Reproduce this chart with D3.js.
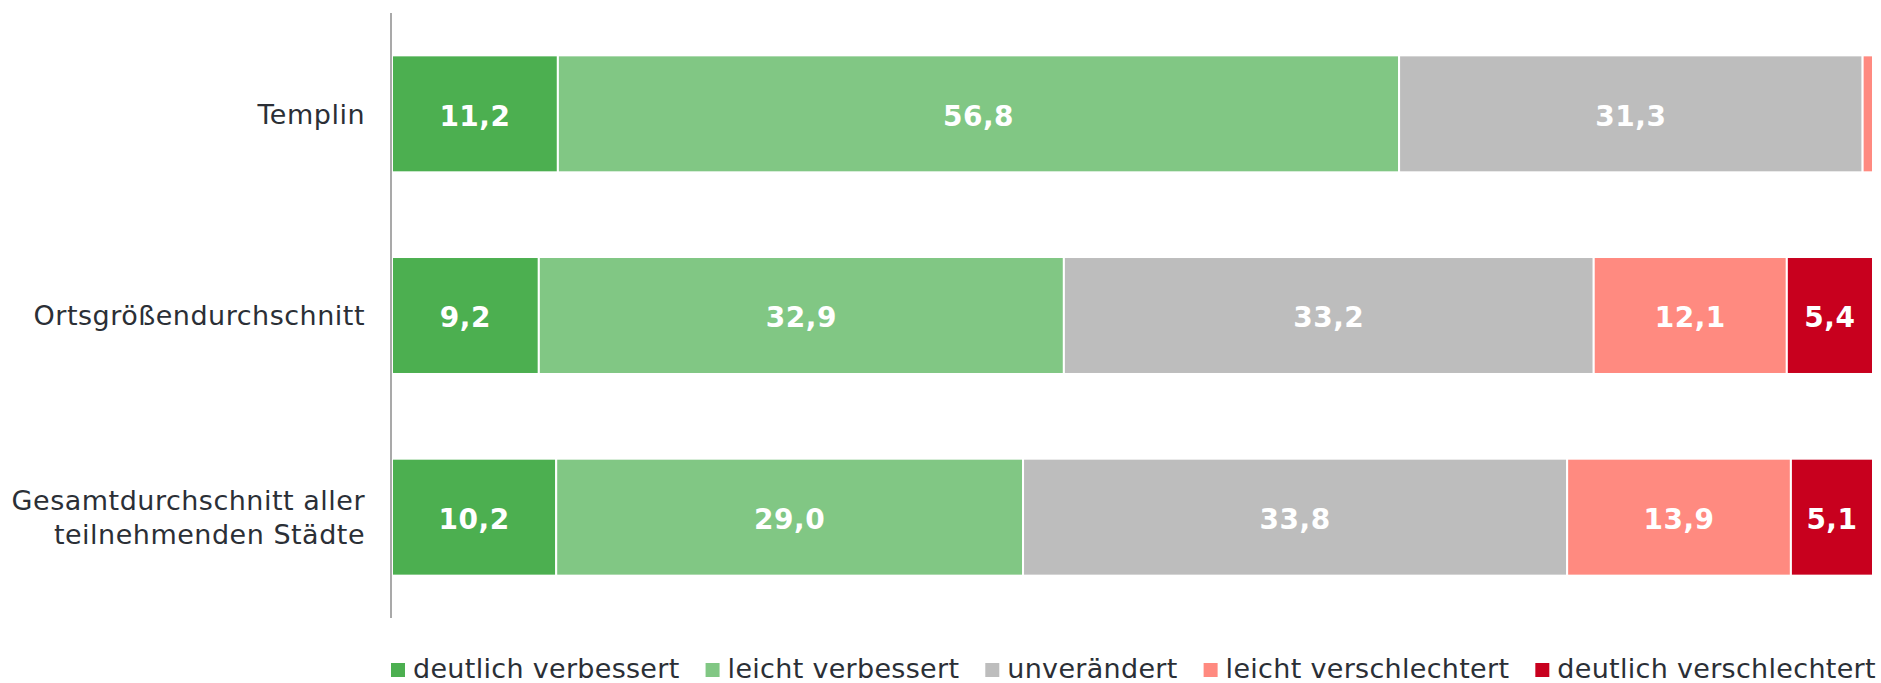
<!DOCTYPE html>
<html lang="de">
<head>
<meta charset="utf-8">
<script src="https://cdn.jsdelivr.net/npm/d3@7"></script>
<style>
  html, body { margin: 0; padding: 0; background: #fff; }
  svg { display: block; font-family: "DejaVu Sans", Verdana, sans-serif; }
</style>
</head>
<body>
<svg id="chart" width="1881" height="683"></svg>
<script>
// Kategorien (Zeilen) und Antwortstufen (Serien)
const categories = ["Templin", "Ortsgrößendurchschnitt", "Gesamtdurchschnitt aller teilnehmenden Städte"];
const categoryLines = [["Templin"], ["Ortsgrößendurchschnitt"], ["Gesamtdurchschnitt aller", "teilnehmenden Städte"]];
const seriesNames = ["deutlich verbessert", "leicht verbessert", "unverändert", "leicht verschlechtert", "deutlich verschlechtert"];
const seriesColors = ["#4caf50", "#81c784", "#bdbdbd", "#ff8a80", "#c8001e"];

// Anteile in Prozent je Kategorie
const deutlichVerbessert   = [11.2, 9.2, 10.2];
const leichtVerbessert     = [56.8, 32.9, 29.0];
const unveraendert         = [31.3, 33.2, 33.8];
const leichtVerschlechtert = [0.7, 12.1, 13.9];
const deutlichVerschlechtert = [0.0, 5.4, 5.1];

const seriesValues = [deutlichVerbessert, leichtVerbessert, unveraendert, leichtVerschlechtert, deutlichVerschlechtert];

(function draw() {
  const rows = categories.map((c, i) => {
    const r = { category: c };
    seriesNames.forEach((s, j) => { r[s] = seriesValues[j][i]; });
    return r;
  });

  const svg = d3.select("#chart");
  const plotLeft = 392, plotRight = 1873, plotTop = 13, plotBottom = 618;

  const stack = d3.stack().keys(seriesNames).offset(d3.stackOffsetExpand);
  const layers = stack(rows);

  const x = d3.scaleLinear().domain([0, 1]).range([plotLeft, plotRight]);
  const y = d3.scaleBand().domain(categories).range([plotTop, plotBottom])
    .paddingInner(0.42).paddingOuter(0.21);

  // Balkensegmente
  const g = svg.append("g");
  layers.forEach((layer, li) => {
    g.selectAll(null)
      .data(layer.map((d, i) => ({ d, i })))
      .join("rect")
      .attr("x", o => x(o.d[0]))
      .attr("y", o => y(categories[o.i]))
      .attr("width", o => Math.max(0, x(o.d[1]) - x(o.d[0])))
      .attr("height", y.bandwidth())
      .attr("fill", seriesColors[li])
      .attr("stroke", "#fff")
      .attr("stroke-width", 2);
  });

  // Wertbeschriftungen
  const fmt = v => v.toFixed(1).replace(".", ",");
  layers.forEach((layer, li) => {
    g.selectAll(null)
      .data(layer.map((d, i) => ({ d, i, v: seriesValues[li][i] })).filter(o => x(o.d[1]) - x(o.d[0]) > 40))
      .join("text")
      .attr("x", o => (x(o.d[0]) + x(o.d[1])) / 2)
      .attr("y", o => y(categories[o.i]) + y.bandwidth() / 2)
      .attr("dy", "0.42em")
      .attr("text-anchor", "middle")
      .attr("fill", "#fff")
      .attr("font-weight", "bold")
      .attr("font-size", 28)
      .attr("letter-spacing", 0.5)
      .text(o => fmt(o.v));
  });

  // Kategorienachse
  svg.append("line")
    .attr("x1", 391).attr("x2", 391)
    .attr("y1", plotTop).attr("y2", plotBottom)
    .attr("stroke", "#8c8c8c").attr("stroke-width", 1.5);

  const lineH = 34;
  categories.forEach((c, i) => {
    const lines = categoryLines[i];
    const cy = y(c) + y.bandwidth() / 2;
    const t = svg.append("text")
      .attr("text-anchor", "end")
      .attr("fill", "#2b2f36")
      .attr("font-size", 27)
      .attr("letter-spacing", 0.5);
    lines.forEach((ln, k) => {
      t.append("tspan")
        .attr("x", 365)
        .attr("y", cy + (k - (lines.length - 1) / 2) * lineH)
        .attr("dy", "0.36em")
        .text(ln);
    });
  });

  // Legende
  const legend = svg.append("g");
  let lx = 391;
  const ly = 678;
  seriesNames.forEach((s, j) => {
    legend.append("rect")
      .attr("x", lx).attr("y", ly - 15)
      .attr("width", 14).attr("height", 14)
      .attr("fill", seriesColors[j]);
    const t = legend.append("text")
      .attr("x", lx + 22).attr("y", ly)
      .attr("fill", "#2b2f36")
      .attr("font-size", 27)
      .attr("letter-spacing", 0.3)
      .text(s);
    lx += 22 + t.node().getComputedTextLength() + 26;
  });
})();
</script>
</body>
</html>
